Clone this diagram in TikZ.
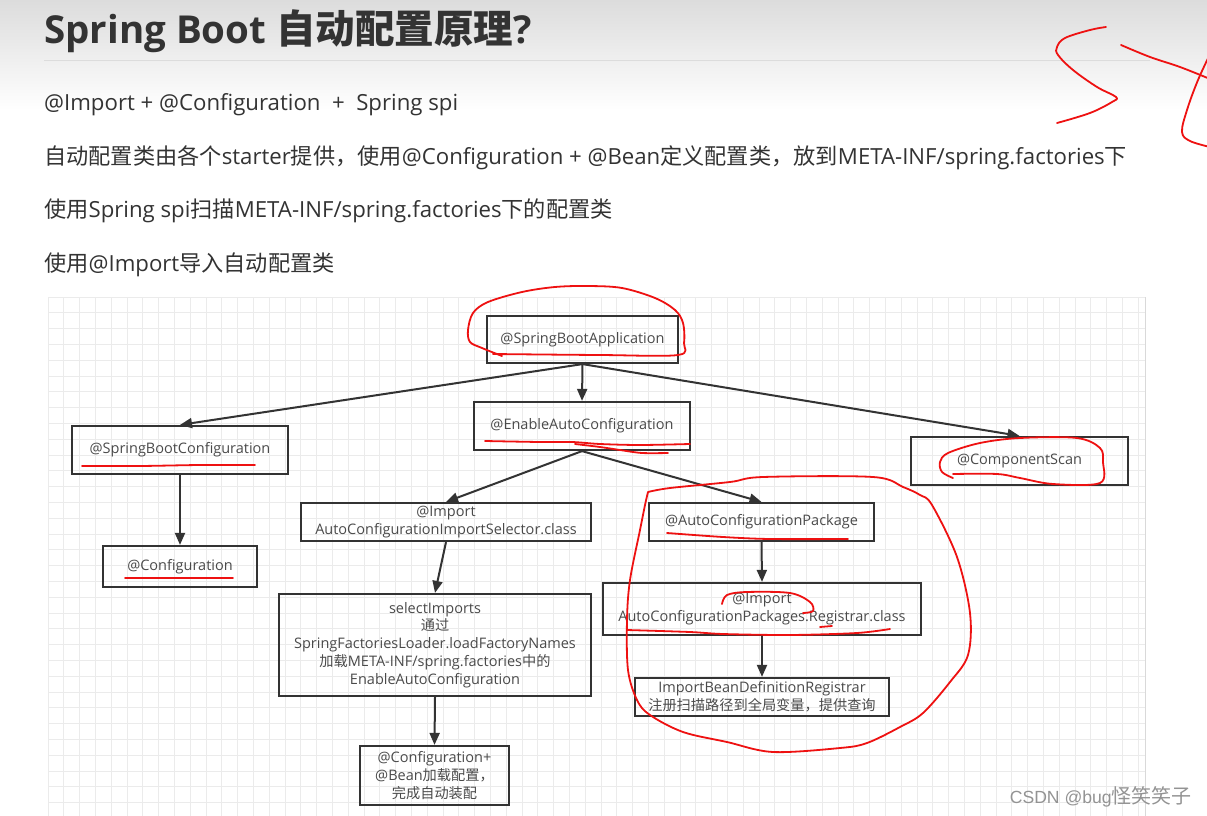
\documentclass[tikz,border=0pt]{standalone}
\usepackage{fontspec}
\setmainfont{Open Sans}
\newfontfamily\cjk[Scale=0.98]{Noto Sans CJK SC}
\newfontfamily\wmlat{Liberation Sans}
\newfontfamily\wmcjk{Noto Sans CJK SC}
\usetikzlibrary{arrows.meta}
\definecolor{ink}{HTML}{333333}
\definecolor{boxtxt}{HTML}{4A4A4A}
\definecolor{pen}{HTML}{EE1111}
\definecolor{gridc}{HTML}{EBEBEB}
\definecolor{topgray}{HTML}{DCDCDC}
\newcommand\C[1]{{\cjk #1}}
\newcommand\CT[1]{{\wmcjk #1}}
\tikzset{
  boxnode/.style={draw=ink, line width=2.2pt, inner sep=0pt, align=center, text=boxtxt,
    font=\fontsize{14.5}{17.8}\selectfont},
  conn/.style={draw=ink, line width=2pt, -{Triangle[length=12pt,width=10pt]}},
  redpen/.style={draw=pen, line width=1.8pt, line cap=round, line join=round},
  bodytext/.style={anchor=base west, inner sep=0pt, text=ink, font=\fontsize{22.2}{26}\selectfont},
}
\begin{document}
\begin{tikzpicture}[x=1pt,y=-1pt]
\useasboundingbox (0,0) rectangle (1207,816);
% top gradient
\shade[top color=topgray, bottom color=white] (0,0) rectangle (1207,110);
\fill[white] (0,110) rectangle (1207,816);
\draw[draw=topgray, line width=1pt] (44,61) -- (1150,61);
% title and text
\node[bodytext, font=\fontsize{38.5}{44}\selectfont\bfseries] (title) at (44,44) {Spring Boot {\fontsize{39.5}{44}\selectfont\CT{自动配置原理}}?};
\node[bodytext] (l1) at (44,110) {@Import + @Configuration\ \ +\ \ Spring spi};
\node[bodytext] (l2) at (44,164) {\CT{自动配置类由各个}starter\CT{提供，使用}@Configuration + @Bean\CT{定义配置类，放到}META-INF/spring.factories\CT{下}};
\node[bodytext] (l3) at (44,217) {\CT{使用}Spring spi\CT{扫描}META-INF/spring.factories\CT{下的配置类}};
\node[bodytext] (l4) at (44,271) {\CT{使用}@Import\CT{导入自动配置类}};
% grid
\foreach \x in {48,63.8,...,1145} \draw[gridc, line width=0.8pt] (\x,297) -- (\x,816);
\foreach \y in {297,312.8,...,816} \draw[gridc, line width=0.8pt] (48,\y) -- (1145,\y);
\draw[gray!30, line width=1pt] (1145,297) -- (1145,816);
% boxes
\node[boxnode, minimum width=191pt, minimum height=47pt] (sba) at (582.5,339.5) {@SpringBootApplication};
\node[boxnode, minimum width=216pt, minimum height=48pt] (eac) at (582,426) {@EnableAutoConfiguration};
\node[boxnode, minimum width=216pt, minimum height=48pt] (sbc) at (180,450) {@SpringBootConfiguration};
\node[boxnode, minimum width=217pt, minimum height=48pt] (cs) at (1019.5,461) {@ComponentScan};
\node[boxnode, minimum width=154pt, minimum height=41pt] (conf) at (180,566.5) {@Configuration};
\node[boxnode, minimum width=290pt, minimum height=38pt] (sel) at (446,522) {@Import\\AutoConfigurationImportSelector.class};
\node[boxnode, minimum width=225pt, minimum height=38pt] (acp) at (761.5,522) {@AutoConfigurationPackage};
\node[boxnode, minimum width=312pt, minimum height=102pt] (si) at (435,645) {selectImports\\\C{通过}\\SpringFactoriesLoader.loadFactoryNames\\\C{加载}META-INF/spring.factories\C{中的}\\EnableAutoConfiguration};
\node[boxnode, minimum width=318pt, minimum height=52pt] (reg) at (762,609) {@Import\\AutoConfigurationPackages.Registrar.class};
\node[boxnode, minimum width=254pt, minimum height=38pt] (ibd) at (762,697) {ImportBeanDefinitionRegistrar\\\C{注册扫描路径到全局变量，提供查询}};
\node[boxnode, minimum width=149pt, minimum height=59pt] (cb) at (434.5,775.5) {@Configuration+\\@Bean\C{加载配置，}\\\C{完成自动装配}};
% connectors
\draw[conn] (sba.south) -- (eac.north);
\draw[conn] (sba.south) -- (sbc.north);
\draw[conn] (sba.south) -- (cs.north);
\draw[conn] (eac.south) -- (sel.north);
\draw[conn] (eac.south) -- (acp.north);
\draw[conn] (sbc.south) -- (conf.north);
\draw[conn] (sel.south) -- (si.north);
\draw[conn] (si.south) -- (cb.north);
\draw[conn] (acp.south) -- (reg.north);
\draw[conn] (reg.south) -- (ibd.north);
% red annotations
\draw[redpen] plot[smooth, tension=0.6] coordinates {(1106,27) (1090,30) (1065,38) (1057,47) (1058,55) (1073,70) (1097,87) (1116,97) (1112,102) (1090,113) (1057,123)};
\draw[redpen] plot[smooth, tension=0.6] coordinates {(1121,45) (1150,57) (1180,67) (1210,79)};
\draw[redpen] plot[smooth, tension=0.6] coordinates {(1212,50) (1198,80) (1187,110) (1182,132) (1190,141) (1210,147)};
\draw[redpen] plot[smooth, tension=0.55] coordinates {(502,356) (482,348) (470,342) (468,330) (473,313) (488,302) (522,292) (555,287) (588,286) (622,288) (655,298) (675,310) (683,323) (684,343) (678,355) (600,355) (493,354)};
\draw[redpen] plot[smooth, tension=0.5] coordinates {(485,441) (540,442) (572,442) (600,444) (640,445) (690,444)};
\draw[redpen] plot[smooth, tension=0.5] coordinates {(575,444) (600,447) (620,450) (642,453) (668,453)};
\draw[redpen] plot[smooth, tension=0.5] coordinates {(82,466) (140,466) (200,465) (255,465)};
\draw[redpen] (125,578) -- (233,578);
\draw[redpen] plot[smooth, tension=0.55] coordinates {(953,478) (942,472) (940,462) (948,453) (980,443) (1020,438) (1077,438) (1100,448) (1103,462) (1100,483) (1053,484) (1020,478) (997,474) (953,474)};
\draw[redpen] plot[smooth, tension=0.55] coordinates {(648,492) (670,488) (730,482) (763,477) (873,477) (903,487) (920,495) (932,505) (957,557) (970,613) (968,655) (950,682) (923,713) (900,727) (867,743) (840,748) (773,752) (727,742) (683,732) (650,715) (637,700) (628,670) (627,620) (630,580) (640,530) (645,505) (648,492)};
\draw[redpen] plot[smooth, tension=0.5] coordinates {(667,533) (723,537) (770,539) (848,539)};
\draw[redpen] plot[smooth, tension=0.55] coordinates {(722,604) (727,595) (747,592) (790,593) (810,602) (813,611) (803,613)};
\draw[redpen] plot[smooth, tension=0.5] coordinates {(627,630) (690,632) (723,634) (790,635) (857,633) (890,629)};
\draw[redpen] (820,627) -- (832,626);
% watermark
\node[anchor=base east, inner sep=0pt, text=gray!85] (wm) at (1192,803) {{\wmlat\fontsize{17.6}{18}\selectfont CSDN @bug}{\wmcjk\fontsize{20}{20}\selectfont 怪笑笑子}};
\end{tikzpicture}
\end{document}
